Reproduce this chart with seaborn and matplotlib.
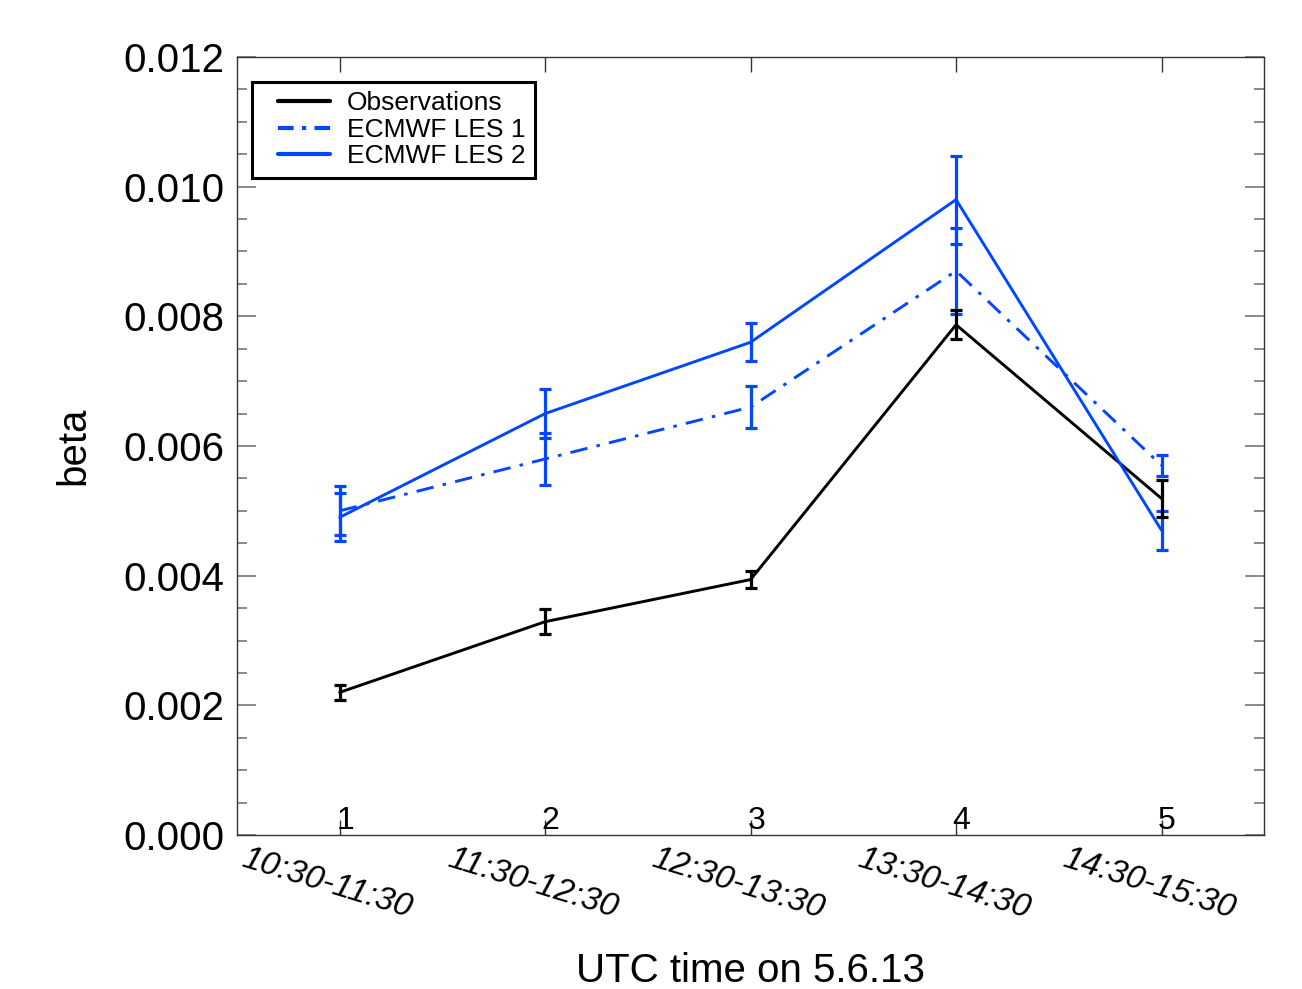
import pandas as pd
import matplotlib.pyplot as plt
import matplotlib.transforms as mtransforms
from matplotlib.lines import Line2D
from matplotlib.legend_handler import HandlerLine2D
from matplotlib.ticker import MultipleLocator, NullLocator
import seaborn as sns

# chart values
hours = [1, 2, 3, 4, 5]
time_labels = ["10:30-11:30", "11:30-12:30", "12:30-13:30", "13:30-14:30", "14:30-15:30"]
obs = [0.0022, 0.00329, 0.00394, 0.00787, 0.00519]
obs_err = [0.00012, 0.00019, 0.00013, 0.00022, 0.00028]
les1 = [0.0050, 0.0058, 0.0066, 0.0087, 0.0057]
les1_err = [0.00038, 0.0004, 0.00032, 0.00066, 0.00016]
les2 = [0.0049, 0.0065, 0.0076, 0.0098, 0.0047]
les2_err = [0.00037, 0.00038, 0.00029, 0.00068, 0.0003]

names = ["Observations", "ECMWF LES 1", "ECMWF LES 2"]
blue = "#0047FF"
colors = {"Observations": "black", "ECMWF LES 1": blue, "ECMWF LES 2": blue}
dashes = {"Observations": "", "ECMWF LES 1": (6, 3.2, 1.2, 3.2), "ECMWF LES 2": ""}

df = pd.concat([
    pd.DataFrame({"hour": hours, "beta": vals, "series": name})
    for name, vals in zip(names, [obs, les1, les2])
])

sns.set_style("ticks")
plt.rcParams["font.family"] = ["Liberation Sans", "DejaVu Sans"]
for key in ["text.color", "axes.labelcolor", "xtick.labelcolor", "ytick.labelcolor"]:
    plt.rcParams[key] = "black"

fig = plt.figure(figsize=(13.02, 9.89), dpi=100)
ax = fig.add_axes([0.182, 0.1557, 0.789, 0.7867])

sns.lineplot(data=df, x="hour", y="beta", hue="series", style="series",
             palette=colors, dashes=dashes, linewidth=2.1, sort=False,
             legend=False, ax=ax)

# error bars
for vals, errs, name in [(les1, les1_err, "ECMWF LES 1"),
                         (les2, les2_err, "ECMWF LES 2"),
                         (obs, obs_err, "Observations")]:
    ax.errorbar(hours, vals, yerr=errs, fmt="none", ecolor=colors[name],
                elinewidth=2.3, capsize=4.3, capthick=2.3)

ax.set_xlim(0.5, 5.5)
ax.set_ylim(0, 0.012)
ax.yaxis.set_major_locator(MultipleLocator(0.002))
ax.yaxis.set_minor_locator(MultipleLocator(0.0005))
ax.yaxis.set_major_formatter(plt.FormatStrFormatter("%.3f"))
ax.xaxis.set_minor_locator(NullLocator())
ax.set_xticks(hours)
ax.set_xticklabels([str(h) for h in hours])

for s in ax.spines.values():
    s.set_visible(True)
    s.set_color("#333333")
    s.set_linewidth(1.0)

ax.tick_params(axis="y", which="both", direction="in", left=True, right=True,
               color="#777777", width=1.2)
ax.tick_params(axis="y", which="major", length=14, labelsize=29, pad=9)
ax.tick_params(axis="y", which="minor", length=7)
ax.tick_params(axis="x", which="major", direction="in", top=True, bottom=True,
               length=11, color="#333333", width=1.0, labelsize=23, pad=-21)
# the small hour numbers sit just right of their tick
shift = mtransforms.ScaledTranslation(4 / 72, 0, fig.dpi_scale_trans)
for lab in ax.get_xticklabels():
    lab.set_transform(lab.get_transform() + shift)

# time range labels under the axis
base = mtransforms.blended_transform_factory(ax.transData, ax.transAxes)
trans = mtransforms.offset_copy(base, fig=fig, x=-9, y=-6, units="points")
for h, lbl in zip(hours, time_labels):
    ax.text(h, 0, lbl, transform=trans, rotation=-17, ha="center", va="top",
            fontsize=24, style="italic")

ax.set_ylabel("beta", fontsize=29, labelpad=22)
ax.set_xlabel("UTC time on 5.6.13", fontsize=29)
ax.xaxis.set_label_coords(0.5, -0.15)

handles = [
    Line2D([], [], color="black", lw=3),
    Line2D([], [], color=blue, lw=3, dashes=(3.75, 2, 1, 2)),
    Line2D([], [], color=blue, lw=3),
]
leg = ax.legend(handles, names, loc="upper left", bbox_to_anchor=(0.0146, 0.968),
                borderaxespad=0, fontsize=19, fancybox=False, framealpha=1,
                edgecolor="black", handlelength=2.6, handletextpad=0.64,
                labelspacing=0.1, borderpad=0.35,
                handler_map={Line2D: HandlerLine2D(xpad=0.64)})
leg.get_frame().set_linewidth(2.2)

plt.savefig("out.png", dpi=100)
